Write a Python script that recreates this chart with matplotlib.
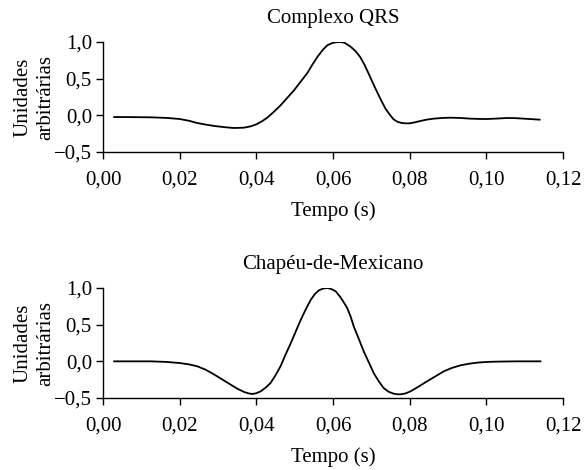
import numpy as np
import matplotlib
matplotlib.use('Agg')
import matplotlib.pyplot as plt
from matplotlib.ticker import FuncFormatter

plt.rcParams['font.family'] = ['Liberation Serif', 'DejaVu Serif']

# Values (time in s, arbitrary units)
t_qrs = [0.0029, 0.0070, 0.0124, 0.0165, 0.0200, 0.0225, 0.0246, 0.0270, 0.0290, 0.0318,
         0.0342, 0.0368, 0.0385, 0.0400, 0.0415, 0.0429, 0.0446, 0.0463, 0.0480, 0.0498,
         0.0515, 0.0533, 0.0546, 0.0559, 0.0572, 0.0585, 0.0595, 0.0603, 0.0612, 0.0620,
         0.0630, 0.0645, 0.0658, 0.0671, 0.0682, 0.0693, 0.0704, 0.0715, 0.0726, 0.0737,
         0.0748, 0.0758, 0.0769, 0.0780, 0.0790, 0.0800, 0.0814, 0.0828, 0.0845, 0.0863,
         0.0885, 0.0906, 0.0932, 0.0958, 0.0980, 0.1002, 0.1028, 0.1054, 0.1075, 0.1097,
         0.1118, 0.1139]
v_qrs = [-0.023, -0.024, -0.027, -0.035, -0.050, -0.075, -0.105, -0.128, -0.145, -0.162,
         -0.173, -0.168, -0.150, -0.123, -0.080, -0.030, 0.050, 0.136, 0.235, 0.340,
         0.455, 0.577, 0.690, 0.795, 0.885, 0.955, 0.980, 0.992, 0.999, 1.000,
         0.990, 0.940, 0.880, 0.795, 0.690, 0.568, 0.440, 0.318, 0.200, 0.090,
         0.010, -0.055, -0.090, -0.105, -0.109, -0.109, -0.095, -0.077, -0.058, -0.045,
         -0.036, -0.032, -0.036, -0.045, -0.049, -0.050, -0.044, -0.036, -0.038, -0.045,
         -0.052, -0.059]

t_hat = [0.0029, 0.0070, 0.0124, 0.0165, 0.0200, 0.0225, 0.0246, 0.0268, 0.0290, 0.0312,
         0.0333, 0.0350, 0.0368, 0.0380, 0.0390, 0.0400, 0.0411, 0.0424, 0.0437, 0.0450,
         0.0463, 0.0476, 0.0490, 0.0503, 0.0516, 0.0529, 0.0542, 0.0553, 0.0563, 0.0574,
         0.0585, 0.0596, 0.0607, 0.0619, 0.0628, 0.0637, 0.0646, 0.0654, 0.0667, 0.0680,
         0.0693, 0.0706, 0.0719, 0.0732, 0.0745, 0.0758, 0.0767, 0.0776, 0.0789, 0.0802,
         0.0823, 0.0845, 0.0867, 0.0889, 0.0910, 0.0932, 0.0954, 0.0976, 0.1002, 0.1028,
         0.1054, 0.1080, 0.1110, 0.1141]
v_hat = [0.000, 0.000, 0.000, -0.008, -0.023, -0.042, -0.068, -0.115, -0.180, -0.250,
         -0.318, -0.372, -0.418, -0.438, -0.445, -0.435, -0.410, -0.360, -0.295, -0.190,
         -0.068, 0.090, 0.250, 0.410, 0.568, 0.710, 0.840, 0.920, 0.968, 0.992,
         1.000, 0.985, 0.955, 0.877, 0.805, 0.727, 0.610, 0.477, 0.310, 0.136,
         -0.010, -0.159, -0.270, -0.364, -0.415, -0.441, -0.449, -0.450, -0.438, -0.410,
         -0.345, -0.273, -0.205, -0.136, -0.090, -0.055, -0.033, -0.018, -0.008, -0.004,
         -0.002, 0.000, 0.000, 0.000]

titles = ['Complexo QRS', 'Chapéu-de-Mexicano']
x_ticks = [0.00, 0.02, 0.04, 0.06, 0.08, 0.10, 0.12]
y_ticks = [-0.5, 0.0, 0.5, 1.0]


def comma(fmt):
    return FuncFormatter(lambda v, pos: (fmt % v).replace('.', ',').replace('-', '\u2212'))


fig = plt.figure(figsize=(5.86, 4.70), dpi=100)
ax1 = fig.add_axes([0.1758, 0.6766, 0.785, 0.234])
ax2 = fig.add_axes([0.1758, 0.1532, 0.785, 0.234])

for ax, t, v, title in [(ax1, t_qrs, v_qrs, titles[0]), (ax2, t_hat, v_hat, titles[1])]:
    ax.plot(t, v, color='black', lw=1.3)
    ax.set_xlim(0, 0.12)
    ax.set_ylim(-0.5, 1.0)
    ax.set_xticks(x_ticks)
    ax.set_yticks(y_ticks)
    ax.xaxis.set_major_formatter(comma('%.2f'))
    ax.yaxis.set_major_formatter(comma('%.1f'))
    for s in ['top', 'right']:
        ax.spines[s].set_visible(False)
    for s in ['left', 'bottom']:
        ax.spines[s].set_linewidth(1.0)
    ax.tick_params(direction='out', length=5, width=1.0, labelsize=15)
    ax.tick_params(axis='x', pad=8)
    ax.tick_params(axis='y', pad=3)
    ax.set_title(title, fontsize=15, pad=14)
    ax.set_xlabel('Tempo (s)', fontsize=15, labelpad=9)
    ax.set_ylabel('Unidades\narbitrárias', fontsize=15, linespacing=1.25, labelpad=-1)

fig.savefig('out.png', dpi=100)
